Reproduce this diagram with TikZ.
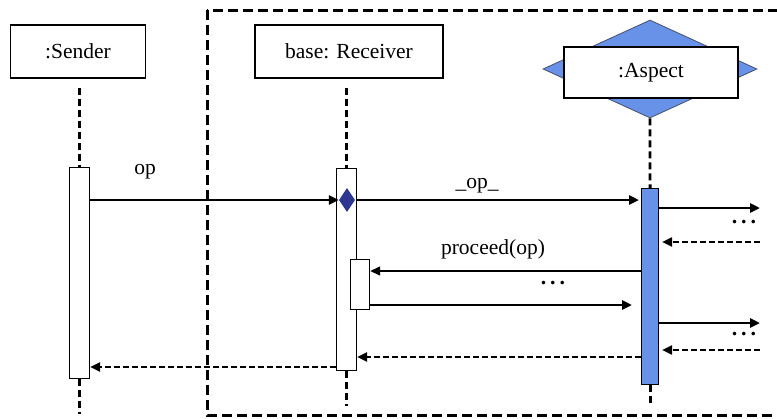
\documentclass[tikz,border=0pt]{standalone}
\usepackage{fontspec}
\setmainfont{Liberation Serif}
\usepackage{xcolor}
\usepackage{tikz}
\usetikzlibrary{arrows.meta,positioning,calc,shapes.geometric}
\definecolor{aspblue}{RGB}{104,145,232}
\definecolor{joinblue}{RGB}{45,55,145}
\definecolor{rimgray}{RGB}{70,80,110}
\newcommand{\bigdots}{.\hspace{4pt}.\hspace{4pt}.}

\begin{document}
\begin{tikzpicture}[x=1pt,y=-1pt,font=\fontsize{21.5}{24}\selectfont,
  >={Triangle[length=10pt,width=9pt]},
  obj/.style={draw,line width=1.2pt,fill=white,minimum height=53pt,inner sep=0pt},
  act/.style={draw,line width=1.2pt,fill=white,inner sep=0pt,anchor=north west},
  life/.style={line width=2.8pt,dash pattern=on 7pt off 4pt},
  msg/.style={line width=2.6pt,->},
  ret/.style={line width=2.6pt,dash pattern=on 6pt off 3pt,->},
  frame/.style={line width=3pt,dash pattern=on 10pt off 5pt},
  dots/.style={font=\fontsize{22}{24}\selectfont\bfseries}]
\useasboundingbox (0,0) rectangle (777,418);
\clip (0,0) rectangle (777,418);
\fill[white] (0,0) rectangle (777,418);

% enclosing frame (right side runs off the picture)
\draw[frame] (207,10) rectangle (800,415);

% objects
\node[obj,minimum width=135pt] (sender) at (78,51.5) {:Sender};
\node[obj,minimum width=188pt] (recv) at (349,51.5) {base: Receiver};
\node[diamond,draw=rimgray,line width=0.8pt,fill=aspblue,inner sep=0pt,
      minimum width=214pt,minimum height=98pt] (adia) at (650,69) {};
\node[obj,minimum width=174pt,minimum height=51pt] (aspect) at (651,72.5) {:Aspect};

% activations
\node[act,minimum width=20pt,minimum height=211pt] (sact) at (69,167) {};
\node[act,minimum width=20pt,minimum height=202pt] (ract) at (336,168) {};
\node[act,minimum width=19pt,minimum height=50pt] (nact) at (350,259) {};
\node[act,fill=aspblue,minimum width=17pt,minimum height=196pt] (aact) at (641,188) {};

% lifelines
\draw[life] ([yshift=-9pt]sender.south -| sact.north) -- (sact.north);
\draw[life] ([yshift=-9pt]recv.south -| ract.north) -- (ract.north);
\draw[life] (adia.south) -- (aact.north);
\draw[life] (sact.south) -- ++(0,35);
\draw[life] (ract.south) -- ++(0,35);
\draw[life] (aact.south) -- ++(0,21);

% join point
\node[diamond,fill=joinblue,inner sep=0pt,minimum width=16pt,minimum height=24pt] (jp) at (347,200) {};

% messages
\draw[msg] (sact.east |- jp) -- (jp.west);
\node (lop) at (145,172) {op};
\draw[msg] (ract.east |- jp) -- ([xshift=-2pt]aact.west |- jp);
\node (lop2) at (477,186) {\_op\_};

\coordinate (o1) at (760,208);
\coordinate (r1) at (760,242);
\draw[msg] (aact.east |- o1) -- (o1);
\node[dots] (d1) at (744,222) {\bigdots};
\draw[ret] (r1) -- ([xshift=3pt]aact.east |- r1);

\draw[msg,line width=1.3pt] (aact.west |- 0,271) -- (nact.east |- 0,271);
\node (lproc) at (493,249) {proceed(op)};
\node[dots] (d2) at (553,283) {\bigdots};
\draw[msg] (nact.east |- 0,305) -- ([xshift=-9pt]aact.west |- 0,305);

\coordinate (o2) at (760,323);
\coordinate (r2) at (760,350);
\draw[msg] (aact.east |- o2) -- (o2);
\node[dots] (d3) at (744,334) {\bigdots};
\draw[ret] (r2) -- ([xshift=3pt]aact.east |- r2);

\draw[ret] (aact.west |- 0,357) -- (ract.east |- 0,357);
\draw[ret] (ract.west |- 0,367) -- (sact.east |- 0,367);
\end{tikzpicture}
\end{document}
